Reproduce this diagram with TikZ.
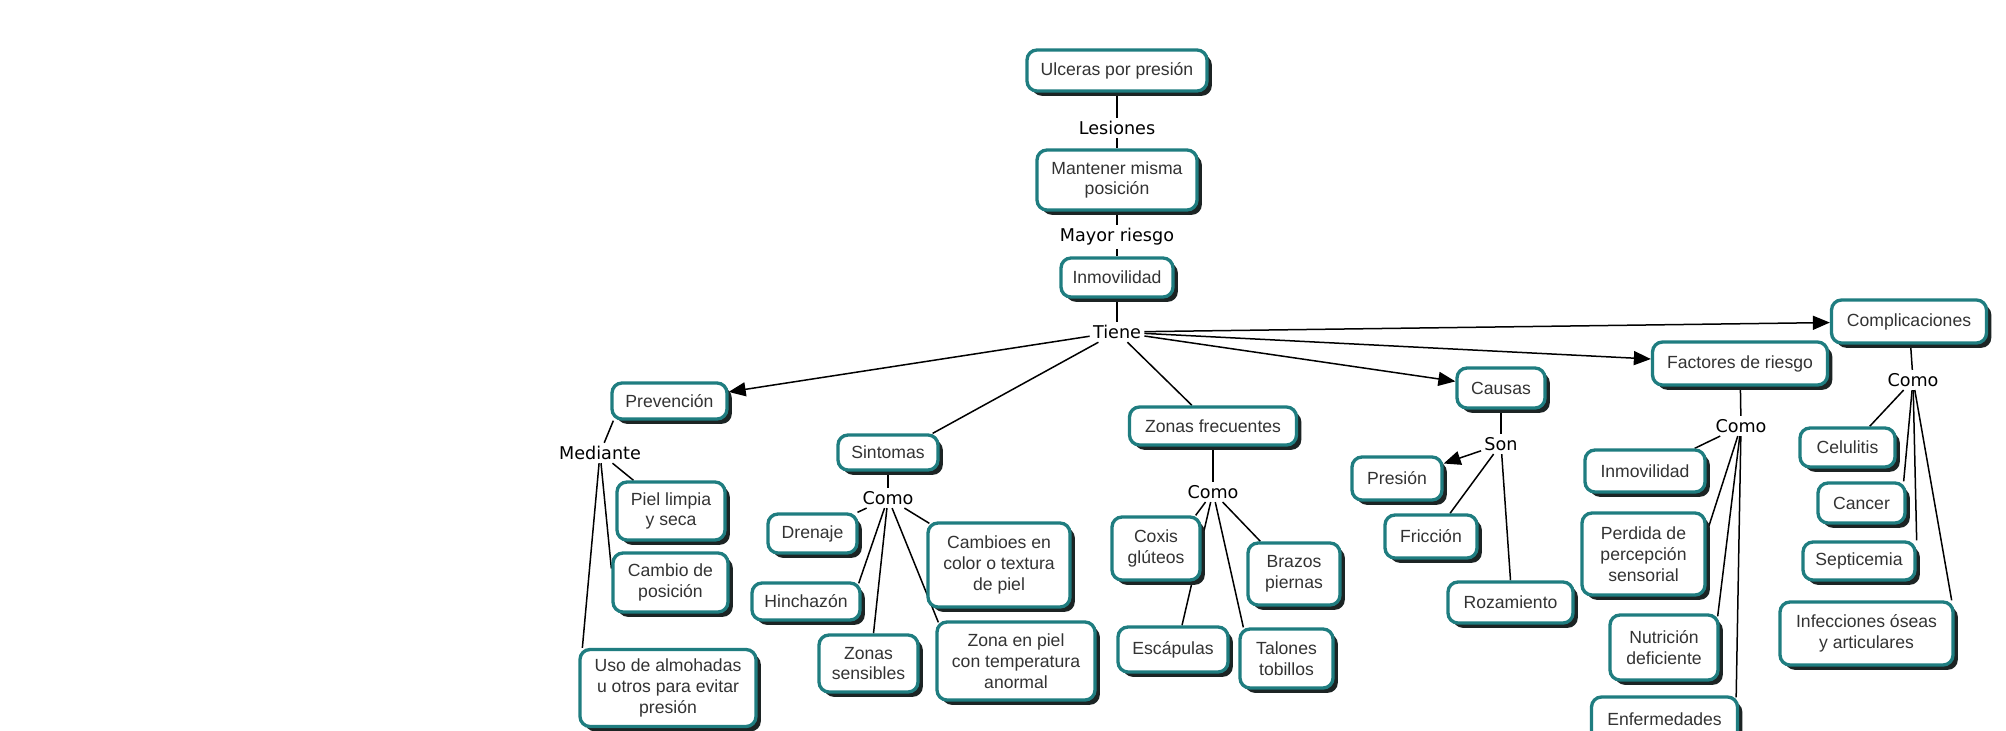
\documentclass[tikz,border=0pt]{standalone}
\usepackage{fontspec}
\setmainfont{Liberation Sans}
\newfontfamily\linkfont{DejaVu Sans}
\usetikzlibrary{shadows,arrows.meta,calc}
\definecolor{bordc}{HTML}{1F7D80}
\definecolor{shadc}{HTML}{1C2424}
\definecolor{txtc}{HTML}{333333}
\pgfdeclarelayer{bg}
\pgfsetlayers{bg,main}
\tikzset{
 concept/.style={draw=bordc, line width=1.65pt, fill=white, rounded corners=5pt, align=center, inner sep=2pt, text=txtc, font=\fontsize{8.8}{10.4}\selectfont, drop shadow={shadow xshift=2.4pt, shadow yshift=-2.4pt, fill=shadc, opacity=1}},
 sz/.style 2 args={minimum width=#1*0.5pt, minimum height=#2*0.5pt},
 linkw/.style={font=\linkfont\fontsize{8.8}{10.4}\selectfont, inner sep=1.5pt, text=black},
 conn/.style={line width=0.75pt, draw=black},
 arr/.style={conn, -{Triangle[length=8.5pt,width=7pt]}}
}
\begin{document}
\begin{tikzpicture}[x=0.5pt,y=-0.5pt]
\useasboundingbox (0,0) rectangle (2006,730);
\clip (0,0) rectangle (2006,730);
% linking phrases
\node[linkw] (les) at (1117,128) {Lesiones};
\node[linkw] (mayor) at (1117,237) {Mayor riesgo};
\node[linkw] (tiene) at (1117,332) {Tiene};
\node[linkw] (med) at (600,453) {Mediante};
\node[linkw] (comos) at (888,498) {Como};
\node[linkw] (comoz) at (1213,492) {Como};
\node[linkw] (son) at (1501,444) {Son};
\node[linkw] (comof) at (1741,426) {Como};
\node[linkw] (comoc) at (1913,380) {Como};
% concepts
\node[concept, sz={180}{41}] (ulc) at (1117,70.5) {Ulceras por presión};
\node[concept, sz={160}{60}] (mant) at (1117,180) {Mantener misma\\posición};
\node[concept, sz={112}{39}] (inm) at (1117,277.5) {Inmovilidad};
\node[concept, sz={115}{36}] (prev) at (669.5,401) {Prevención};
\node[concept, sz={108}{58}] (piel) at (671,511) {Piel limpia\\y seca};
\node[concept, sz={115}{59}] (camb) at (670.5,582.5) {Cambio de\\posición};
\node[concept, sz={176}{77}] (uso) at (668,688) {Uso de almohadas\\u otros para evitar\\presión};
\node[concept, sz={100}{35}] (sint) at (888,452.5) {Sintomas};
\node[concept, sz={89}{39}] (dren) at (812.5,533.5) {Drenaje};
\node[concept, sz={108}{37}] (hinch) at (806,601.5) {Hinchazón};
\node[concept, sz={99}{57}] (zs) at (868.5,663.5) {Zonas\\sensibles};
\node[concept, sz={142}{84}] (cam) at (999,565) {Cambioes en\\color o textura\\de piel};
\node[concept, sz={158}{78}] (zp) at (1016,661) {Zona en piel\\con temperatura\\anormal};
\node[concept, sz={167}{38}] (zf) at (1213,426) {Zonas frecuentes};
\node[concept, sz={88}{63}] (cox) at (1156,548.5) {Coxis\\glúteos};
\node[concept, sz={92}{62}] (braz) at (1294,574) {Brazos\\piernas};
\node[concept, sz={110}{45}] (esc) at (1173,649.5) {Escápulas};
\node[concept, sz={93}{59}] (tal) at (1286.5,658.5) {Talones\\tobillos};
\node[concept, sz={88}{40}] (causas) at (1501,388) {Causas};
\node[concept, sz={90}{43}] (pres) at (1397,478.5) {Presión};
\node[concept, sz={92}{43}] (fric) at (1431,536.5) {Fricción};
\node[concept, sz={125}{41}] (roz) at (1510.5,602.5) {Rozamiento};
\node[concept, sz={175}{43}] (fact) at (1740,363.5) {Factores de riesgo};
\node[concept, sz={120}{42}] (inm2) at (1645,471) {Inmovilidad};
\node[concept, sz={123}{82}] (per) at (1643.5,554) {Perdida de\\percepción\\sensorial};
\node[concept, sz={108}{65}] (nut) at (1664,647.5) {Nutrición\\deficiente};
\node[concept, sz={146}{44}] (enf) at (1664.5,719) {Enfermedades};
\node[concept, sz={155}{43}] (compl) at (1909,321.5) {Complicaciones};
\node[concept, sz={95}{39}] (cel) at (1847.5,447.5) {Celulitis};
\node[concept, sz={87}{40}] (can) at (1861.5,503) {Cancer};
\node[concept, sz={112}{38}] (sep) at (1859,561) {Septicemia};
\node[concept, sz={173}{63}] (inf) at (1866.5,633.5) {Infecciones óseas\\y articulares};
\begin{pgfonlayer}{bg}
\fill[white] (0,0) rectangle (2006,730);
% main chain
\draw[conn] (ulc) -- (les);
\draw[conn] (les) -- (mant);
\draw[conn] (mant) -- (mayor);
\draw[conn] (mayor) -- (inm);
\draw[conn] (inm) -- (tiene);
% from Tiene
\draw[arr] (tiene) -- (prev);
\draw[conn] (tiene) -- ($(sint.north east)+(-7,0)$);
\draw[conn] (tiene) -- (zf);
\draw[arr] (tiene) -- (causas);
\draw[arr] (tiene) -- (fact);
\draw[arr] (tiene) -- (compl);
% Prevención
\draw[conn] ($(prev.south west)+(3,0)$) -- (med);
\draw[conn] (med) -- (piel);
\draw[conn] (med) -- ($(camb.west)+(0,-14)$);
\draw[conn] (med) -- ($(uso.north west)+(4,0)$);
% Sintomas
\draw[conn] (sint) -- (comos);
\draw[conn] (comos) -- (dren);
\draw[conn] (comos) -- ($(hinch.north east)+(-3,2)$);
\draw[conn] (comos) -- ($(zs.north)+(5,0)$);
\draw[conn] (comos) -- ($(cam.north west)+(3,2)$);
\draw[conn] (comos) -- ($(zp.north west)+(3,2)$);
% Zonas frecuentes
\draw[conn] (zf) -- (comoz);
\draw[conn] (comoz) -- ($(cox.north east)+(-6,0)$);
\draw[conn] (comoz) -- ($(esc.north)+(9,0)$);
\draw[conn] (comoz) -- ($(braz.north west)+(14,0)$);
\draw[conn] (comoz) -- ($(tal.north west)+(5,0)$);
% Causas
\draw[conn] (causas) -- (son);
\draw[arr] (son) -- ($(pres.east)+(0,-15)$);
\draw[conn] (son) -- ($(fric.north)+(19,0)$);
\draw[conn] (son) -- (roz.north);
% Factores de riesgo
\draw[conn] (fact) -- (comof);
\draw[conn] (comof) -- ($(inm2.north east)+(-12,0)$);
\draw[conn] (comof) -- ($(per.east)+(0,-21)$);
\draw[conn] (comof) -- ($(nut.north east)+(-2,3)$);
\draw[conn] (comof) -- ($(enf.north east)+(-3,2)$);
% Complicaciones
\draw[conn] (compl) -- (comoc);
\draw[conn] (comoc) -- ($(cel.north east)+(-27,0)$);
\draw[conn] (comoc) -- ($(can.north east)+(-3,0)$);
\draw[conn] (comoc) -- (sep.north east);
\draw[conn] (comoc) -- ($(inf.north east)+(-3,0)$);
\end{pgfonlayer}
\end{tikzpicture}
\end{document}
